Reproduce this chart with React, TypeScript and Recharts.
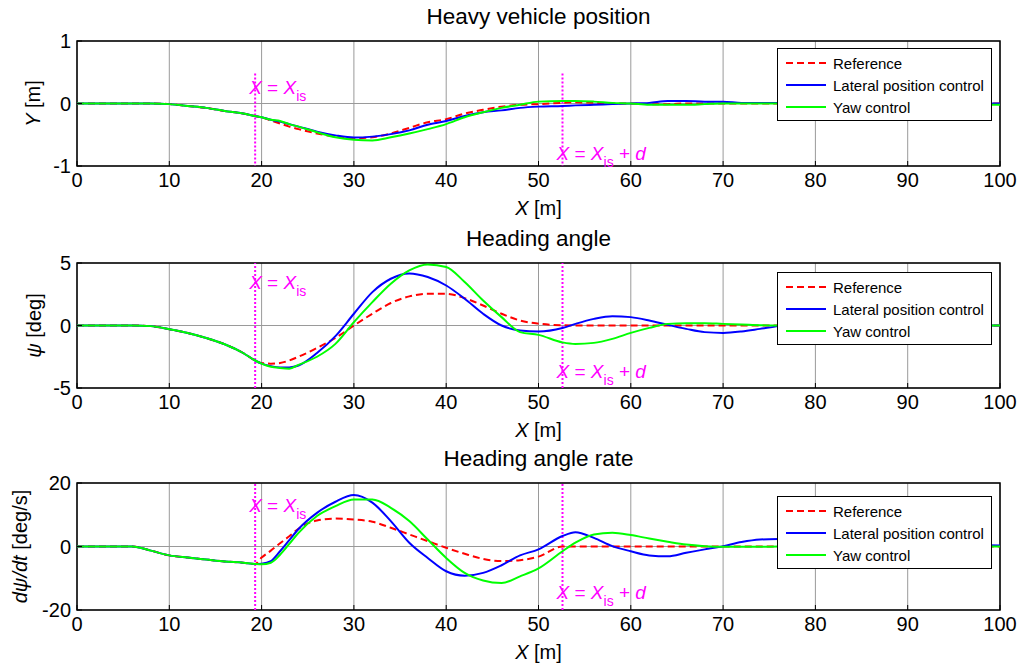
import React from "react";
import {
  LineChart,
  Line,
  XAxis,
  YAxis,
  CartesianGrid,
  ReferenceLine,
  ReferenceArea,
  Legend,
} from "recharts";

const FONT = '"Liberation Sans", Arial, Helvetica, sans-serif';
const MAGENTA = "#ff00ff";
const W = 1029;

// distance along the road [m]
const xs = [
  0, 2, 4, 6, 8, 10, 12, 14, 16, 18, 19.3, 20, 21, 22, 23, 24, 26, 28, 30, 32, 34, 36, 38, 40,
  42, 44, 46, 48, 50, 52.6, 54, 56, 58, 60, 62, 64, 66, 68, 70, 72, 74, 76, 80, 84, 88, 92, 96, 100,
];
const xTicks = [0, 10, 20, 30, 40, 50, 60, 70, 80, 90, 100];
const xIs = 19.3;
const xIsPlusD = 52.6;

const seriesNames = ["Reference", "Lateral position control", "Yaw control"];
const seriesColors = ["#ff0000", "#0000ff", "#00ff00"];
const seriesDash = ["7 4", undefined, undefined];

// Y [m]
const posRef = [
  0, 0, 0, 0, 0, -0.01, -0.04, -0.07, -0.12, -0.16, -0.2, -0.22, -0.27, -0.32, -0.37, -0.41, -0.48,
  -0.53, -0.555, -0.54, -0.48, -0.39, -0.3, -0.25, -0.16, -0.1, -0.05, -0.02, -0.01, 0.01, 0.02,
  0.01, 0, 0, -0.01, -0.01, 0, 0, 0, 0, 0, 0, 0, 0, 0, 0, 0, 0,
];
const posLat = [
  0, 0, 0, 0, 0, -0.01, -0.04, -0.07, -0.12, -0.16, -0.2, -0.22, -0.26, -0.29, -0.33, -0.37, -0.45,
  -0.51, -0.545, -0.53, -0.49, -0.43, -0.34, -0.28, -0.2, -0.14, -0.11, -0.07, -0.05, -0.04, -0.03,
  -0.02, -0.01, 0, 0.01, 0.04, 0.04, 0.03, 0.03, 0.01, 0.01, 0.01, 0.01, 0.01, 0, 0, 0, 0,
];
const posYaw = [
  0, 0, 0, 0, 0, -0.01, -0.04, -0.07, -0.12, -0.16, -0.2, -0.22, -0.26, -0.28, -0.33, -0.37, -0.46,
  -0.54, -0.58, -0.59, -0.54, -0.48, -0.41, -0.33, -0.22, -0.14, -0.07, -0.02, 0.03, 0.04, 0.04,
  0.03, 0.01, 0, -0.02, -0.02, -0.02, -0.01, 0, 0, 0, 0, -0.01, -0.01, -0.02, -0.02, -0.02, -0.02,
];

// heading angle [deg]
const hdgRef = [
  0, 0, 0, 0, -0.05, -0.3, -0.6, -1.0, -1.5, -2.2, -2.8, -3.0, -3.05, -3.0, -2.8, -2.5, -1.8, -1.0,
  0, 0.94, 1.8, 2.33, 2.54, 2.54, 2.19, 1.6, 0.94, 0.4, 0.15, 0.02, 0, 0, 0, 0, 0, 0, 0, 0, 0, 0, 0,
  0, 0, 0, 0, 0, 0, 0,
];
const hdgLat = [
  0, 0, 0, 0, -0.05, -0.3, -0.6, -1.0, -1.5, -2.2, -2.8, -3.05, -3.25, -3.35, -3.35, -3.2, -2.2,
  -0.85, 0.94, 2.67, 3.74, 4.17, 3.88, 3.2, 2.14, 0.94, 0, -0.4, -0.48, -0.2, 0.13, 0.53, 0.75, 0.67,
  0.4, 0.05, -0.27, -0.53, -0.59, -0.48, -0.27, -0.05, 0.2, 0.15, 0, -0.05, 0, 0,
];
const hdgYaw = [
  0, 0, 0, 0, -0.05, -0.3, -0.6, -1.0, -1.5, -2.2, -2.8, -3.05, -3.3, -3.4, -3.45, -3.15, -2.5,
  -1.47, 0.27, 1.87, 3.34, 4.41, 4.89, 4.68, 3.48, 2.0, 0.67, -0.53, -0.75, -1.35, -1.47, -1.39,
  -1.07, -0.59, -0.19, 0.13, 0.19, 0.19, 0.13, 0.08, 0.02, 0, 0, 0, 0, 0, 0, 0,
];

// heading angle rate [deg/s]
const rateRef = [
  0, 0, 0, 0, -1.3, -2.8, -3.5, -4.1, -4.7, -5.1, -5.5, -3.5, -1.3, 1.0, 3.2, 5.6, 8.2, 8.8, 8.5,
  7.8, 5.9, 3.8, 1.7, -0.4, -2.3, -3.9, -4.6, -4.3, -3.2, 0, 0, 0, 0, 0, 0, 0, 0, 0, 0, 0, 0, 0, 0,
  0, 0, 0, 0, 0,
];
const rateLat = [
  0, 0, 0, 0, -1.3, -2.8, -3.5, -4.1, -4.7, -5.1, -5.5, -5.4, -4.6, -1.5, 2.0, 5.5, 10.6, 14.1,
  16.2, 13.8, 8.0, 1.2, -3.6, -7.8, -9.2, -8.3, -5.9, -2.8, -0.9, 3.3, 4.5, 2.7, 0.1, -1.5, -2.8,
  -3.1, -2.0, -0.9, 0.1, 1.4, 2.2, 2.4, 2.5, 2.0, 1.3, 0.8, 0.5, 0.3,
];
const rateYaw = [
  0, 0, 0, 0, -1.3, -2.8, -3.5, -4.1, -4.7, -5.1, -5.5, -5.6, -5.1, -2.6, 0.8, 4.3, 9.6, 12.7,
  14.8, 14.8, 12.2, 8.0, 2.2, -3.6, -8.3, -10.7, -11.5, -9.4, -6.9, -1.5, 1.2, 3.8, 4.3, 3.6, 2.5,
  1.5, 0.6, 0.1, -0.1, -0.1, -0.1, 0, 0, 0, 0, 0, 0, 0,
];

function buildRows(ref: number[], lat: number[], yaw: number[]) {
  return xs.map((x, i) => ({ x, ref: ref[i], lat: lat[i], yaw: yaw[i] }));
}

const keys = ["ref", "lat", "yaw"];

type PanelCfg = {
  top: number;
  height: number;
  marginTop: number;
  xAxisHeight: number;
  title: string;
  yDomain: [number, number];
  yTicks: number[];
  yLabel: React.ReactNode;
  yLabelGap: number;
  legendTop: number;
  segTop?: number; // upper end of the dotted markers (data units), full height if absent
  annTop: number;
  annBottom: number;
  rows: ReturnType<typeof buildRows>;
};

const it = (s: string) => <tspan fontStyle="italic">{s}</tspan>;

const panels: PanelCfg[] = [
  {
    top: 0,
    height: 223,
    marginTop: 41,
    xAxisHeight: 57,
    title: "Heavy vehicle position",
    yDomain: [-1, 1],
    yTicks: [-1, 0, 1],
    yLabel: (
      <>
        {it("Y")}
        <tspan>{" [m]"}</tspan>
      </>
    ),
    yLabelGap: 37,
    legendTop: 48,
    segTop: 0.48,
    annTop: 20,
    annBottom: 6,
    rows: buildRows(posRef, posLat, posYaw),
  },
  {
    top: 223,
    height: 223,
    marginTop: 40,
    xAxisHeight: 58,
    title: "Heading angle",
    yDomain: [-5, 5],
    yTicks: [-5, 0, 5],
    yLabel: (
      <>
        {it("\u03c8")}
        <tspan>{" [deg]"}</tspan>
      </>
    ),
    yLabelGap: 36,
    legendTop: 49,
    annTop: 26,
    annBottom: 10,
    rows: buildRows(hdgRef, hdgLat, hdgYaw),
  },
  {
    top: 446,
    height: 223,
    marginTop: 37,
    xAxisHeight: 59,
    title: "Heading angle rate",
    yDomain: [-20, 20],
    yTicks: [-20, 0, 20],
    yLabel: (
      <>
        {it("d\u03c8/dt")}
        <tspan>{" [deg/s]"}</tspan>
      </>
    ),
    yLabelGap: 50,
    legendTop: 50,
    annTop: 29,
    annBottom: 11,
    rows: buildRows(rateRef, rateLat, rateYaw),
  },
];

function markerLabel(withD: boolean, place: "top" | "bottom", off: number) {
  return (props: any) => {
    const vb = props.viewBox || { x: 0, y: 0, width: 0, height: 0 };
    const x = vb.x - 6;
    const y = place === "top" ? vb.y + off : vb.y + vb.height - off;
    return (
      <text x={x} y={y} fill={MAGENTA} fontSize={19} fontFamily={FONT}>
        {it("X")}
        <tspan>{" = "}</tspan>
        {it("X")}
        <tspan fontSize={14} dy={7}>
          is
        </tspan>
        {withD && <tspan dy={-7}>{" + "}</tspan>}
        {withD && it("d")}
      </text>
    );
  };
}

function LegendBox() {
  return (
    <div
      style={{
        width: 213,
        height: 68,
        border: "1px solid #000",
        background: "#fff",
        paddingTop: 3,
        fontFamily: FONT,
        fontSize: 15,
        color: "#000",
      }}
    >
      {seriesNames.map((name, i) => (
        <div key={name} style={{ height: 22, display: "flex", alignItems: "center" }}>
          <svg width={40} height={4} style={{ marginLeft: 8, marginRight: 7 }}>
            <line
              x1={0}
              y1={2}
              x2={40}
              y2={2}
              stroke={seriesColors[i]}
              strokeWidth={2}
              strokeDasharray={seriesDash[i]}
            />
          </svg>
          <span>{name}</span>
        </div>
      ))}
    </div>
  );
}

function Panel({ cfg }: { cfg: PanelCfg }) {
  const plotH = cfg.height - cfg.marginTop - cfg.xAxisHeight;
  const markerProps = {
    stroke: MAGENTA,
    strokeWidth: 2,
    strokeDasharray: "2 2",
  };

  const markers = [xIs, xIsPlusD].map((mx, i) => {
    const label = markerLabel(i === 1, i === 0 ? "top" : "bottom", i === 0 ? cfg.annTop : cfg.annBottom);
    if (cfg.segTop !== undefined) {
      return (
        <ReferenceLine
          key={mx}
          segment={[
            { x: mx, y: cfg.segTop },
            { x: mx, y: cfg.yDomain[0] },
          ]}
          {...markerProps}
          label={label}
        />
      );
    }
    return <ReferenceLine key={mx} x={mx} {...markerProps} label={label} />;
  });

  return (
    <div style={{ position: "absolute", left: 0, top: cfg.top, width: W, height: cfg.height }}>
      <LineChart
        width={W}
        height={cfg.height}
        data={cfg.rows}
        margin={{ top: cfg.marginTop, right: 29, bottom: 0, left: 0 }}
      >
        <CartesianGrid stroke="#9a9a9a" strokeWidth={1} />
        <ReferenceArea
          x1={0}
          x2={100}
          y1={cfg.yDomain[0]}
          y2={cfg.yDomain[1]}
          fill="none"
          stroke="#000"
          strokeWidth={1.5}
        />
        <XAxis
          type="number"
          dataKey="x"
          domain={[0, 100]}
          ticks={xTicks}
          interval={0}
          allowDataOverflow
          height={cfg.xAxisHeight}
          axisLine={false}
          tickSize={5}
          tickMargin={2}
          tickLine={{ stroke: "#000", transform: "translate(0,-5)" } as any}
          tick={{ fill: "#000", fontSize: 20, fontFamily: FONT }}
          label={(lp: any) => {
            const vb = lp.viewBox || { x: 77, y: cfg.height - cfg.xAxisHeight, width: 923 };
            const cx = vb.x + vb.width / 2;
            return (
              <g>
                <text
                  x={cx}
                  y={vb.y + 49}
                  textAnchor="middle"
                  fontSize={20}
                  fontFamily={FONT}
                  fill="#000"
                >
                  {it("X")}
                  <tspan>{" [m]"}</tspan>
                </text>
                <text
                  x={cx}
                  y={vb.y - plotH - 17}
                  textAnchor="middle"
                  fontSize={22.5}
                  fontFamily={FONT}
                  fill="#000"
                >
                  {cfg.title}
                </text>
              </g>
            );
          }}
        />
        <YAxis
          type="number"
          domain={cfg.yDomain}
          ticks={cfg.yTicks}
          interval={0}
          allowDataOverflow
          width={77}
          axisLine={false}
          tickSize={5}
          tickMargin={1}
          tickLine={{ stroke: "#000", transform: "translate(5,0)" } as any}
          tick={{ fill: "#000", fontSize: 20, fontFamily: FONT }}
          label={(lp: any) => {
            const vb = lp.viewBox || { x: 0, y: cfg.marginTop, width: 77, height: plotH };
            const bx = vb.x + vb.width - cfg.yLabelGap;
            const cy = vb.y + vb.height / 2;
            return (
              <text
                x={bx}
                y={cy}
                transform={`rotate(-90 ${bx} ${cy})`}
                textAnchor="middle"
                fontSize={20}
                fontFamily={FONT}
                fill="#000"
              >
                {cfg.yLabel}
              </text>
            );
          }}
        />
        {markers}
        {keys.map((k, i) => (
          <Line
            key={k}
            type="monotone"
            dataKey={k}
            name={seriesNames[i]}
            stroke={seriesColors[i]}
            strokeWidth={2}
            strokeDasharray={seriesDash[i]}
            dot={false}
            activeDot={false}
            isAnimationActive={false}
          />
        ))}
        <Legend
          layout="vertical"
          align="center"
          verticalAlign="middle"
          wrapperStyle={{ left: 777, top: cfg.legendTop, width: 215 }}
          content={() => <LegendBox />}
        />
      </LineChart>
    </div>
  );
}

export default function App() {
  return (
    <div
      style={{
        position: "absolute",
        left: 0,
        top: 0,
        width: W,
        height: 669,
        background: "#fff",
      }}
    >
      {panels.map((p) => (
        <Panel key={p.title} cfg={p} />
      ))}
    </div>
  );
}
